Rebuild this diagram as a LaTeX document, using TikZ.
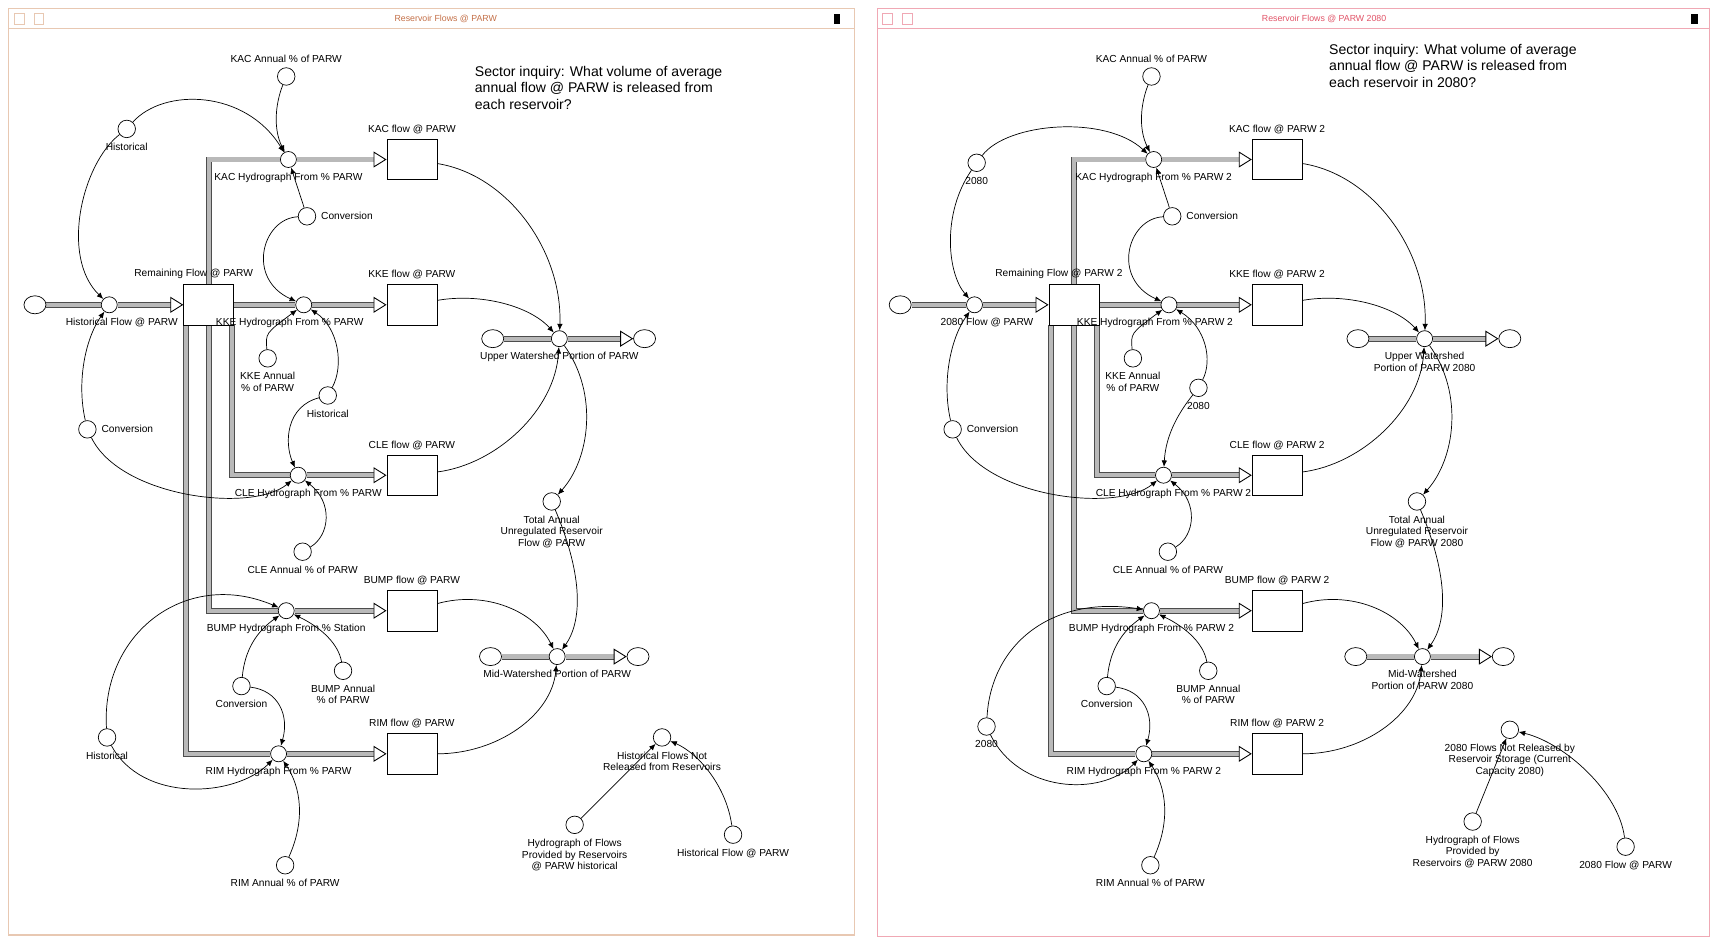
\documentclass[tikz,border=0pt]{standalone}
\usepackage{fontspec}
\setmainfont{Liberation Sans}
\usetikzlibrary{arrows.meta,shapes.geometric}
\pgfdeclarelayer{paper}
\pgfdeclarelayer{pipes}
\pgfsetlayers{paper,pipes,main}
\definecolor{leftframe}{RGB}{232,200,178}
\definecolor{lefttitle}{RGB}{196,112,72}
\definecolor{rightframe}{RGB}{240,168,180}
\definecolor{righttitle}{RGB}{226,84,104}

\begin{document}
\begin{tikzpicture}[x=0.02185cm, y=-0.02185cm, label distance=0.06cm]
  \tikzstyle{lbl}=[font=\fontsize{5.8}{6.6}\selectfont, align=center, inner sep=1pt]
  \tikzstyle{stock}=[draw=black, fill=white, rectangle, minimum width=1cm, minimum height=0.81cm]
  \tikzstyle{conv}=[draw=black, fill=white, circle, minimum size=0.35cm, inner sep=0pt]
  \tikzstyle{valve}=[draw=black, fill=white, circle, minimum size=0.32cm, inner sep=0pt]
  \tikzstyle{cloudend}=[draw=black, fill=white, ellipse, minimum width=0.44cm, minimum height=0.36cm]
  \tikzstyle{pipe}=[draw=gray!60!black, line width=0.5pt, double=gray!55, double distance=2.4pt,
    -{Triangle[color=black, fill=white, line width=0.5pt, length=0.26cm, width=0.32cm]}]
  \tikzstyle{link}=[draw=black, line width=0.4pt, -{Latex[length=0.13cm, width=0.11cm]}]
  \tikzstyle{inquiry}=[font=\fontsize{8}{9.3}\selectfont, align=left, anchor=north west]

  \begin{pgfonlayer}{paper}
    \fill[white] (0,0) rectangle (1568,859);
  \end{pgfonlayer}
  \useasboundingbox (0,0) rectangle (1568,859);

  % window frames
  \draw[leftframe, line width=0.8pt] (8,8) rectangle (782,856);
  \draw[leftframe] (8,26) -- (782,26);
  \draw[leftframe] (13,12) rectangle (22,22) (31,12) rectangle (40,22);
  \fill (763,13) rectangle (769,22);
  \node[font=\fontsize{5}{6}\selectfont, text=lefttitle] (ltitle) at (408,17) {Reservoir Flows @ PARW};

  \draw[rightframe, line width=0.8pt] (803,8) rectangle (1565,857);
  \draw[rightframe] (803,26) -- (1565,26);
  \draw[rightframe] (808,12) rectangle (817,22) (826,12) rectangle (835,22);
  \fill (1548,13) rectangle (1554,22);
  \node[font=\fontsize{5}{6}\selectfont, text=righttitle] (rtitle) at (1212,17) {Reservoir Flows @ PARW 2080};

  % historical model
  \begin{scope}[name prefix=L-]
    \node[inquiry] (ask) at (429,55) {Sector inquiry: What volume of average\\annual flow @ PARW is released from\\each reservoir?};
    % stocks
    \node[stock, label={[lbl, xshift=-0.3cm]above:Remaining Flow @ PARW}] (rem) at (191,279) {};
    \node[stock, label={[lbl]above:KAC flow @ PARW}] (kac) at (377,146) {};
    \node[stock, label={[lbl]above:KKE flow @ PARW}] (kke) at (377,279) {};
    \node[stock, label={[lbl]above:CLE flow @ PARW}] (cle) at (377,435) {};
    \node[stock, label={[lbl]above:BUMP flow @ PARW}] (bump) at (377,559) {};
    \node[stock, label={[lbl]above:RIM flow @ PARW}] (rim) at (377,690) {};
    % clouds
    \node[cloudend] (cin) at (32,279) {};
    \node[cloudend] (upin) at (451,310) {};
    \node[cloudend] (upout) at (590,310) {};
    \node[cloudend] (midin) at (449,601) {};
    \node[cloudend] (midout) at (584,601) {};
    % flows
    \node[valve, label={[lbl, xshift=0.25cm]below:Historical Flow @ PARW}] (inv) at (100,279) {};
    \node[valve, label={[lbl]below:KAC Hydrograph From \% PARW}] (kacv) at (264,146) {};
    \node[valve, label={[lbl, xshift=-0.28cm]below:KKE Hydrograph From \% PARW}] (kkev) at (278,279) {};
    \node[valve, label={[lbl, xshift=0.2cm]below:CLE Hydrograph From \% PARW}] (clev) at (273,435) {};
    \node[valve, label={[lbl]below:BUMP Hydrograph From \% Station}] (bumpv) at (262,559) {};
    \node[valve, label={[lbl]below:RIM Hydrograph From \% PARW}] (rimv) at (255,690) {};
    \node[valve, label={[lbl]below:Upper Watershed Portion of PARW}] (upv) at (512,310) {};
    \node[valve, label={[lbl]below:Mid-Watershed Portion of PARW}] (midv) at (510,601) {};
    % converters
    \node[conv, label={[lbl]above:KAC Annual \% of PARW}] (kacann) at (262,70) {};
    \node[conv, label={[lbl]below:Historical}] (histA) at (116,118) {};
    \node[conv, label={[lbl]right:Conversion}] (convA) at (281,198) {};
    \node[conv, label={[lbl]below:{KKE Annual\\\% of PARW}}] (kkeann) at (245,328) {};
    \node[conv, label={[lbl]below:Historical}] (histB) at (300,362) {};
    \node[conv, label={[lbl]right:Conversion}] (convB) at (80,393) {};
    \node[conv, label={[lbl]below:CLE Annual \% of PARW}] (cleann) at (277,505) {};
    \node[conv, label={[lbl]below:Conversion}] (convC) at (221,628) {};
    \node[conv, label={[lbl]below:{BUMP Annual\\\% of PARW}}] (bumpann) at (314,614) {};
    \node[conv, label={[lbl]below:Historical}] (histC) at (98,675) {};
    \node[conv, label={[lbl]below:RIM Annual \% of PARW}] (rimann) at (261,792) {};
    \node[conv, label={[lbl]below:{Total Annual\\Unregulated Reservoir\\Flow @ PARW}}] (tot) at (505,459) {};
    \node[conv, label={[lbl]below:{Historical Flows Not\\Released from Reservoirs}}] (notrel) at (606,675) {};
    \node[conv, label={[lbl]below:{Hydrograph of Flows\\Provided by Reservoirs\\@ PARW historical}}] (hydro) at (526,755) {};
    \node[conv, label={[lbl]below:Historical Flow @ PARW}] (histflow) at (671,764) {};

    \begin{pgfonlayer}{pipes}
      \draw[pipe] (cin) -- (inv) -- (rem);
      \draw[pipe] (rem.north) |- (kacv) -- (kac);
      \draw[pipe] (rem) -- (kkev) -- (kke);
      \draw[pipe] ([xshift=0.46cm]rem.south) |- (clev) -- (cle);
      \draw[pipe] (rem.south) |- (bumpv) -- (bump);
      \draw[pipe] ([xshift=-0.46cm]rem.south) |- (rimv) -- (rim);
      \draw[pipe] (upin) -- (upv) -- (upout);
      \draw[pipe] (midin) -- (midv) -- (midout);
    \end{pgfonlayer}

    \draw[link] (kacann) .. controls (252,95) and (250,118) .. (kacv);
    \draw[link] (histA) .. controls (150,80) and (225,82) .. (kacv);
    \draw[link] (histA) .. controls (75,150) and (55,235) .. (inv);
    \draw[link] (convA) -- (kacv);
    \draw[link] (convA) .. controls (240,200) and (225,255) .. (kkev);
    \draw[link] (kkeann) .. controls (243,305) .. (kkev);
    \draw[link] (histB) .. controls (315,335) and (310,300) .. (kkev);
    \draw[link] (histB) .. controls (262,372) and (260,405) .. (clev);
    \draw[link] (convB) .. controls (70,350) and (78,310) .. (inv);
    \draw[link] (convB) .. controls (110,455) and (230,470) .. (clev);
    \draw[link] (cleann) .. controls (302,490) and (305,460) .. (clev);
    \draw[link] (histC) .. controls (92,580) and (170,520) .. (bumpv);
    \draw[link] (histC) .. controls (130,735) and (215,730) .. (rimv);
    \draw[link] (convC) .. controls (224,595) and (235,578) .. (bumpv);
    \draw[link] (convC) .. controls (255,632) and (265,655) .. (rimv);
    \draw[link] (bumpann) .. controls (310,590) and (295,575) .. (bumpv);
    \draw[link] (rimann) .. controls (280,750) and (275,720) .. (rimv);
    \draw[link] (kac) .. controls (465,160) and (515,230) .. (upv);
    \draw[link] (kke) .. controls (440,268) and (485,280) .. (upv);
    \draw[link] (cle) .. controls (455,425) and (508,375) .. (upv);
    \draw[link] (upv) .. controls (548,360) and (540,420) .. (tot);
    \draw[link] (tot) .. controls (535,530) and (532,570) .. (midv);
    \draw[link] (bump) .. controls (445,540) and (490,560) .. (midv);
    \draw[link] (rim) .. controls (455,690) and (505,655) .. (midv);
    \draw[link] (hydro) -- (notrel);
    \draw[link] (histflow) .. controls (665,720) and (640,690) .. (notrel);
  \end{scope}

  % 2080 model
  \begin{scope}[shift={(792,0)}, name prefix=R-]
    \node[inquiry] (ask) at (419,35) {Sector inquiry: What volume of average\\annual flow @ PARW is released from\\each reservoir in 2080?};
    % stocks
    \node[stock, label={[lbl, xshift=-0.3cm]above:Remaining Flow @ PARW 2}] (rem) at (191,279) {};
    \node[stock, label={[lbl]above:KAC flow @ PARW 2}] (kac) at (377,146) {};
    \node[stock, label={[lbl]above:KKE flow @ PARW 2}] (kke) at (377,279) {};
    \node[stock, label={[lbl]above:CLE flow @ PARW 2}] (cle) at (377,435) {};
    \node[stock, label={[lbl]above:BUMP flow @ PARW 2}] (bump) at (377,559) {};
    \node[stock, label={[lbl]above:RIM flow @ PARW 2}] (rim) at (377,690) {};
    % clouds
    \node[cloudend] (cin) at (32,279) {};
    \node[cloudend] (upin) at (451,310) {};
    \node[cloudend] (upout) at (590,310) {};
    \node[cloudend] (midin) at (449,601) {};
    \node[cloudend] (midout) at (584,601) {};
    % flows
    \node[valve, label={[lbl, xshift=0.25cm]below:2080 Flow @ PARW}] (inv) at (100,279) {};
    \node[valve, label={[lbl]below:KAC Hydrograph From \% PARW 2}] (kacv) at (264,146) {};
    \node[valve, label={[lbl, xshift=-0.28cm]below:KKE Hydrograph From \% PARW 2}] (kkev) at (278,279) {};
    \node[valve, label={[lbl, xshift=0.2cm]below:CLE Hydrograph From \% PARW 2}] (clev) at (273,435) {};
    \node[valve, label={[lbl]below:BUMP Hydrograph From \% PARW 2}] (bumpv) at (262,559) {};
    \node[valve, label={[lbl]below:RIM Hydrograph From \% PARW 2}] (rimv) at (255,690) {};
    \node[valve, label={[lbl]below:{Upper Watershed\\Portion of PARW 2080}}] (upv) at (512,310) {};
    \node[valve, label={[lbl]below:{Mid-Watershed\\Portion of PARW 2080}}] (midv) at (510,601) {};
    % converters
    \node[conv, label={[lbl]above:KAC Annual \% of PARW}] (kacann) at (262,70) {};
    \node[conv, label={[lbl]below:2080}] (histA) at (102,149) {};
    \node[conv, label={[lbl]right:Conversion}] (convA) at (281,198) {};
    \node[conv, label={[lbl]below:{KKE Annual\\\% of PARW}}] (kkeann) at (245,328) {};
    \node[conv, label={[lbl]below:2080}] (histB) at (305,355) {};
    \node[conv, label={[lbl]right:Conversion}] (convB) at (80,393) {};
    \node[conv, label={[lbl]below:CLE Annual \% of PARW}] (cleann) at (277,505) {};
    \node[conv, label={[lbl]below:Conversion}] (convC) at (221,628) {};
    \node[conv, label={[lbl]below:{BUMP Annual\\\% of PARW}}] (bumpann) at (314,614) {};
    \node[conv, label={[lbl]below:2080}] (histC) at (111,665) {};
    \node[conv, label={[lbl]below:RIM Annual \% of PARW}] (rimann) at (261,792) {};
    \node[conv, label={[lbl]below:{Total Annual\\Unregulated Reservoir\\Flow @ PARW 2080}}] (tot) at (505,459) {};
    \node[conv, label={[lbl]below:{2080 Flows Not Released by\\Reservoir Storage (Current\\Capacity 2080)}}] (notrel) at (590,668) {};
    \node[conv, label={[lbl]below:{Hydrograph of Flows\\Provided by\\Reservoirs @ PARW 2080}}] (hydro) at (556,752) {};
    \node[conv, label={[lbl]below:2080 Flow @ PARW}] (histflow) at (696,775) {};

    \begin{pgfonlayer}{pipes}
      \draw[pipe] (cin) -- (inv) -- (rem);
      \draw[pipe] (rem.north) |- (kacv) -- (kac);
      \draw[pipe] (rem) -- (kkev) -- (kke);
      \draw[pipe] ([xshift=0.46cm]rem.south) |- (clev) -- (cle);
      \draw[pipe] (rem.south) |- (bumpv) -- (bump);
      \draw[pipe] ([xshift=-0.46cm]rem.south) |- (rimv) -- (rim);
      \draw[pipe] (upin) -- (upv) -- (upout);
      \draw[pipe] (midin) -- (midv) -- (midout);
    \end{pgfonlayer}

    \draw[link] (kacann) .. controls (252,95) and (250,118) .. (kacv);
    \draw[link] (histA) .. controls (130,112) and (220,105) .. (kacv);
    \draw[link] (histA) .. controls (70,195) and (75,250) .. (inv);
    \draw[link] (convA) -- (kacv);
    \draw[link] (convA) .. controls (240,200) and (225,255) .. (kkev);
    \draw[link] (kkeann) .. controls (243,305) .. (kkev);
    \draw[link] (histB) .. controls (318,330) and (312,300) .. (kkev);
    \draw[link] (histB) .. controls (285,380) and (275,400) .. (clev);
    \draw[link] (convB) .. controls (70,350) and (78,310) .. (inv);
    \draw[link] (convB) .. controls (110,455) and (230,470) .. (clev);
    \draw[link] (cleann) .. controls (302,490) and (305,460) .. (clev);
    \draw[link] (histC) .. controls (115,590) and (170,545) .. (bumpv);
    \draw[link] (histC) .. controls (140,725) and (215,730) .. (rimv);
    \draw[link] (convC) .. controls (224,595) and (235,578) .. (bumpv);
    \draw[link] (convC) .. controls (255,632) and (265,655) .. (rimv);
    \draw[link] (bumpann) .. controls (310,590) and (295,575) .. (bumpv);
    \draw[link] (rimann) .. controls (280,750) and (275,720) .. (rimv);
    \draw[link] (kac) .. controls (465,160) and (515,230) .. (upv);
    \draw[link] (kke) .. controls (440,268) and (485,280) .. (upv);
    \draw[link] (cle) .. controls (455,425) and (508,375) .. (upv);
    \draw[link] (upv) .. controls (548,360) and (540,420) .. (tot);
    \draw[link] (tot) .. controls (535,530) and (532,570) .. (midv);
    \draw[link] (bump) .. controls (445,540) and (490,560) .. (midv);
    \draw[link] (rim) .. controls (455,690) and (505,655) .. (midv);
    \draw[link] (hydro) -- (notrel);
    \draw[link] (histflow) .. controls (690,725) and (640,680) .. (notrel);
  \end{scope}
\end{tikzpicture}
\end{document}
